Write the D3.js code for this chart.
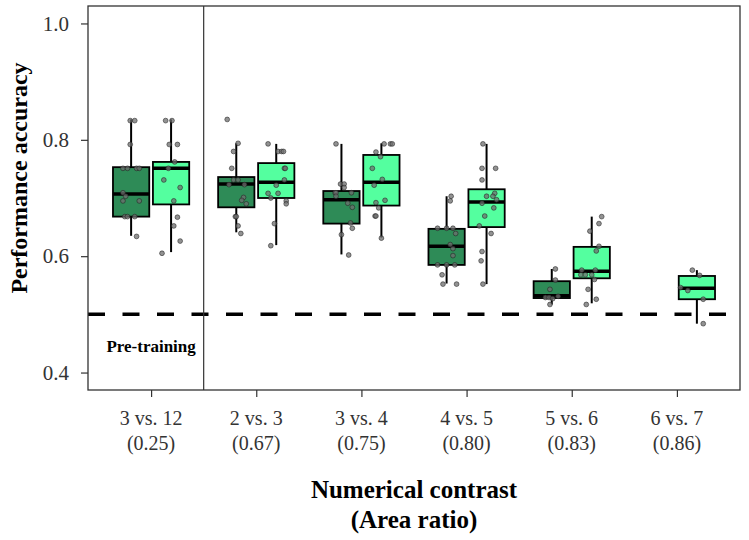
<!DOCTYPE html>
<html>
<head>
<meta charset="utf-8">
<script src="https://cdn.jsdelivr.net/npm/d3@7"></script>
<style>
  body { margin: 0; background: #fff; }
  svg text { font-family: "Liberation Serif", "Times New Roman", Times, "DejaVu Serif", serif; }
</style>
</head>
<body>
<div id="chart"></div>
<script>
var contrasts = ["3 vs. 12", "2 vs. 3", "3 vs. 4", "4 vs. 5", "5 vs. 6", "6 vs. 7"];
var ratios = ["(0.25)", "(0.67)", "(0.75)", "(0.80)", "(0.83)", "(0.86)"];
var yTicks = [0.4, 0.6, 0.8, 1.0];
var chance = 0.5;

// box stats per contrast: [lower whisker, q1, median, q3, upper whisker]
var darkBoxes = [
  [0.635, 0.668, 0.707, 0.753, 0.835],
  [0.641, 0.684, 0.724, 0.736, 0.794],
  [0.603, 0.656, 0.697, 0.712, 0.793],
  [0.553, 0.585, 0.617, 0.647, 0.703],
  [0.517, 0.528, 0.532, 0.557, 0.578],
  null
];
var lightBoxes = [
  [0.607, 0.689, 0.751, 0.762, 0.835],
  [0.619, 0.700, 0.727, 0.760, 0.793],
  [0.632, 0.687, 0.727, 0.774, 0.794],
  [0.552, 0.650, 0.693, 0.715, 0.793],
  [0.519, 0.562, 0.574, 0.616, 0.668],
  [0.484, 0.526, 0.545, 0.566, 0.576]
];

// single subjects: [contrast index, accuracy, jitter (share of half box)]
var darkPoints = [
  [0, 0.833, -0.05], [0, 0.833, 0.2], [0, 0.792, -0.05], [0, 0.751, -0.45], [0, 0.751, -0.2],
  [0, 0.751, 0.3], [0, 0.751, 0.45], [0, 0.709, -0.45], [0, 0.703, -0.3], [0, 0.695, -0.45],
  [0, 0.695, 0.45], [0, 0.668, -0.35], [0, 0.668, -0.2], [0, 0.668, 0.2], [0, 0.634, 0.3],
  [1, 0.835, -0.5], [1, 0.794, 0.1], [1, 0.780, -0.15], [1, 0.751, -0.25], [1, 0.731, -0.15],
  [1, 0.731, 0.1], [1, 0.723, -0.4], [1, 0.723, 0.45], [1, 0.701, 0.4], [1, 0.696, 0.3],
  [1, 0.690, 0.55], [1, 0.668, -0.05], [1, 0.668, 0.0], [1, 0.652, 0.1], [1, 0.639, 0.25],
  [2, 0.793, -0.3], [2, 0.724, -0.05], [2, 0.724, 0.15], [2, 0.718, 0.15], [2, 0.709, -0.35],
  [2, 0.709, -0.3], [2, 0.709, 0.55], [2, 0.703, -0.3], [2, 0.691, 0.35], [2, 0.684, 0.6],
  [2, 0.657, 0.5], [2, 0.648, 0.6], [2, 0.637, 0.0], [2, 0.602, 0.4],
  [3, 0.703, 0.25], [3, 0.695, 0.2], [3, 0.648, -0.5], [3, 0.648, 0.0], [3, 0.648, 0.35],
  [3, 0.639, 0.5], [3, 0.620, 0.2], [3, 0.613, 0.35], [3, 0.601, 0.35], [3, 0.585, -0.5],
  [3, 0.585, 0.0], [3, 0.585, 0.45], [3, 0.568, -0.25], [3, 0.552, -0.2], [3, 0.552, 0.55],
  [4, 0.578, 0.2], [4, 0.559, 0.2], [4, 0.543, -0.1], [4, 0.529, -0.35], [4, 0.529, -0.15],
  [4, 0.531, 0.35], [4, 0.527, 0.05], [4, 0.517, -0.1]
];
var lightPoints = [
  [0, 0.833, -0.3], [0, 0.833, 0.05], [0, 0.792, -0.1], [0, 0.792, 0.35], [0, 0.762, 0.2],
  [0, 0.751, -0.15], [0, 0.731, -0.4], [0, 0.718, 0.5], [0, 0.695, 0.15], [0, 0.667, 0.35],
  [0, 0.652, 0.15], [0, 0.626, 0.5], [0, 0.605, -0.5],
  [1, 0.793, -0.45], [1, 0.780, 0.1], [1, 0.780, 0.3], [1, 0.780, 0.4], [1, 0.751, 0.45],
  [1, 0.751, 0.5], [1, 0.731, 0.45], [1, 0.722, 0.0], [1, 0.708, -0.45], [1, 0.708, 0.1],
  [1, 0.700, -0.3], [1, 0.695, 0.55], [1, 0.690, 0.55], [1, 0.656, -0.1], [1, 0.618, -0.3],
  [2, 0.793, 0.15], [2, 0.793, 0.5], [2, 0.793, 0.6], [2, 0.779, -0.3], [2, 0.771, -0.05],
  [2, 0.751, -0.5], [2, 0.732, 0.05], [2, 0.722, -0.4], [2, 0.696, 0.2], [2, 0.692, -0.3],
  [2, 0.683, -0.15], [2, 0.669, -0.35], [2, 0.669, -0.3], [2, 0.631, 0.0],
  [3, 0.793, -0.2], [3, 0.751, -0.25], [3, 0.751, 0.5], [3, 0.731, -0.25], [3, 0.708, 0.45],
  [3, 0.703, 0.0], [3, 0.703, 0.35], [3, 0.697, 0.55], [3, 0.691, -0.25], [3, 0.683, 0.4],
  [3, 0.669, -0.1], [3, 0.652, -0.4], [3, 0.639, 0.25], [3, 0.608, -0.25], [3, 0.592, -0.3],
  [3, 0.552, -0.2],
  [4, 0.668, 0.55], [4, 0.656, 0.4], [4, 0.643, -0.1], [4, 0.617, 0.4], [4, 0.609, 0.25],
  [4, 0.576, -0.55], [4, 0.576, 0.2], [4, 0.568, -0.6], [4, 0.568, -0.35], [4, 0.568, 0.0],
  [4, 0.560, 0.15], [4, 0.543, -0.2], [4, 0.526, 0.25], [4, 0.517, -0.3],
  [5, 0.576, -0.25], [5, 0.567, 0.15], [5, 0.546, -0.9], [5, 0.541, -0.5], [5, 0.526, 0.35],
  [5, 0.484, 0.35]
];

chart('#chart');

function chart(id) {
  var width = 749, height = 540;
  var margin = { top: 6, right: 9, bottom: 150, left: 88 };

  var svg = d3.select(id).append("svg")
    .attr("width", width)
    .attr("height", height);

  var x = d3.scalePoint()
    .domain(contrasts)
    .range([margin.left, width - margin.right])
    .padding(0.6);

  var y = d3.scaleLinear()
    .domain([0.37, 1.03])
    .range([height - margin.bottom, margin.top]);

  var step = x.step();
  var boxW = step * 0.345;
  var dodge = step * 0.19;

  // chance line
  svg.append("line")
    .attr("x1", margin.left).attr("x2", width - margin.right)
    .attr("y1", y(chance)).attr("y2", y(chance))
    .attr("stroke", "#000")
    .attr("stroke-width", 3.5)
    .attr("stroke-dasharray", "17,17.5");

  drawBoxes(svg, darkBoxes, -dodge, "#2E8B57", x, y, boxW);
  drawBoxes(svg, lightBoxes, dodge, "#54FF9F", x, y, boxW);
  drawPoints(svg, darkPoints, -dodge, x, y, boxW);
  drawPoints(svg, lightPoints, dodge, x, y, boxW);

  // pre-training divider
  var divX = (x(contrasts[0]) + x(contrasts[1])) / 2;
  svg.append("line")
    .attr("x1", divX).attr("x2", divX)
    .attr("y1", y.range()[1]).attr("y2", y.range()[0])
    .attr("stroke", "#333")
    .attr("stroke-width", 1.2);

  svg.append("text")
    .attr("x", x(contrasts[0])).attr("y", y(0.435))
    .attr("text-anchor", "middle")
    .style("font-size", "17px")
    .style("font-weight", "bold")
    .text("Pre-training");

  // panel border
  svg.append("rect")
    .attr("x", margin.left).attr("y", margin.top)
    .attr("width", width - margin.right - margin.left)
    .attr("height", height - margin.bottom - margin.top)
    .attr("fill", "none")
    .attr("stroke", "#333")
    .attr("stroke-width", 1.3);

  // y axis
  var yAxis = svg.append("g")
    .attr("transform", "translate(" + margin.left + ",0)")
    .call(d3.axisLeft(y).tickValues(yTicks).tickFormat(d3.format(".1f")).tickSize(7).tickPadding(12));
  yAxis.select(".domain").remove();
  yAxis.attr("font-family", null);
  yAxis.selectAll("line").attr("stroke", "#333").attr("stroke-width", 1.2);
  yAxis.selectAll("text")
    .attr("fill", "#333")
    .style("font-size", "21px");

  // x axis
  var xAxis = svg.append("g")
    .attr("transform", "translate(0," + (height - margin.bottom) + ")")
    .call(d3.axisBottom(x).tickSize(7).tickFormat(""));
  xAxis.select(".domain").remove();
  xAxis.selectAll("line").attr("stroke", "#333").attr("stroke-width", 1.2);

  var lbl = svg.append("g").selectAll("text")
    .data(contrasts)
    .join("text")
    .attr("x", function(d) { return x(d); })
    .attr("y", 425)
    .attr("text-anchor", "middle")
    .attr("fill", "#333")
    .style("font-size", "20px");
  lbl.append("tspan").text(function(d) { return d; });
  lbl.append("tspan")
    .attr("x", function(d) { return x(d); })
    .attr("dy", 25)
    .text(function(d, i) { return ratios[i]; });

  // titles
  var midX = (margin.left + width - margin.right) / 2;
  var xt = svg.append("text")
    .attr("x", midX).attr("y", 498)
    .attr("text-anchor", "middle")
    .style("font-size", "25px")
    .style("font-weight", "bold");
  xt.append("tspan").text("Numerical contrast");
  xt.append("tspan").attr("x", midX).attr("dy", 30).text("(Area ratio)");

  svg.append("text")
    .attr("transform", "translate(27,178) rotate(-90)")
    .attr("text-anchor", "middle")
    .style("font-size", "24px")
    .style("font-weight", "bold")
    .text("Performance accuracy");
}

function drawBoxes(svg, boxes, offset, color, x, y, boxW) {
  var data = boxes.map(function(b, i) { return { c: contrasts[i], s: b }; })
    .filter(function(d) { return d.s; });

  var g = svg.append("g").selectAll("g")
    .data(data)
    .join("g")
    .attr("transform", function(d) { return "translate(" + (x(d.c) + offset) + ",0)"; });

  // whiskers
  g.append("line")
    .attr("y1", function(d) { return y(d.s[0]); })
    .attr("y2", function(d) { return y(d.s[1]); })
    .attr("stroke", "#000").attr("stroke-width", 2);
  g.append("line")
    .attr("y1", function(d) { return y(d.s[3]); })
    .attr("y2", function(d) { return y(d.s[4]); })
    .attr("stroke", "#000").attr("stroke-width", 2);

  g.append("rect")
    .attr("x", -boxW / 2)
    .attr("width", boxW)
    .attr("y", function(d) { return y(d.s[3]); })
    .attr("height", function(d) { return y(d.s[1]) - y(d.s[3]); })
    .attr("fill", color)
    .attr("stroke", "#000")
    .attr("stroke-width", 1.8);

  // median
  g.append("line")
    .attr("x1", -boxW / 2).attr("x2", boxW / 2)
    .attr("y1", function(d) { return y(d.s[2]); })
    .attr("y2", function(d) { return y(d.s[2]); })
    .attr("stroke", "#000").attr("stroke-width", 3.5);
}

function drawPoints(svg, points, offset, x, y, boxW) {
  svg.append("g").selectAll("circle")
    .data(points)
    .join("circle")
    .attr("cx", function(d) { return x(contrasts[d[0]]) + offset + d[2] * boxW / 2; })
    .attr("cy", function(d) { return y(d[1]); })
    .attr("r", 2.4)
    .attr("fill", "#6e6e6e")
    .attr("fill-opacity", 0.75)
    .attr("stroke", "#222")
    .attr("stroke-opacity", 0.7)
    .attr("stroke-width", 0.8);
}
</script>
</body>
</html>
